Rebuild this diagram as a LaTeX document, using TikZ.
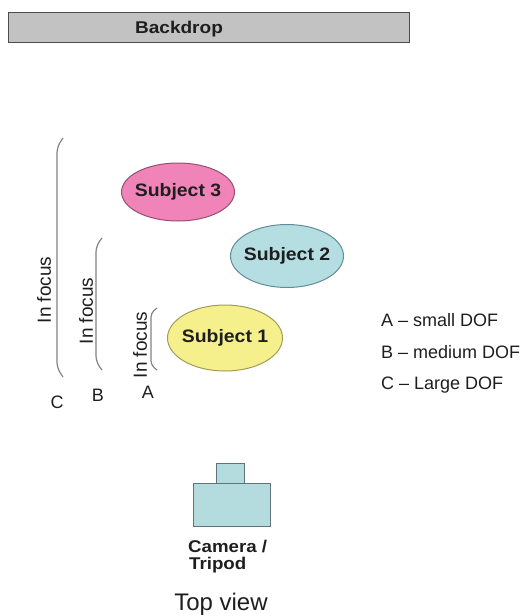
\documentclass[tikz,border=0pt]{standalone}
\usepackage{fontspec}
\usepackage{graphicx}
\setmainfont{Liberation Sans}
\usetikzlibrary{shapes.geometric}
\definecolor{bdgray}{RGB}{194,194,194}
\definecolor{pinkf}{RGB}{240,132,184}
\definecolor{pinkd}{RGB}{150,80,110}
\definecolor{bluef}{RGB}{180,222,226}
\definecolor{blued}{RGB}{100,140,150}
\definecolor{yelf}{RGB}{246,240,140}
\definecolor{yeld}{RGB}{160,155,90}
\definecolor{camf}{RGB}{180,220,222}
\definecolor{camd}{RGB}{95,115,120}
\definecolor{brk}{RGB}{130,130,130}
\definecolor{txt}{RGB}{30,30,30}
\tikzset{
  subj/.style={ellipse, draw, line width=1pt, inner sep=0pt},
  subjtext/.style={font=\fontsize{18}{20}\selectfont\bfseries, text=txt, inner sep=0pt},
  brack/.style={draw=brk, line width=1.2pt, rounded corners=6pt},
  focus/.style={rotate=90, font=\fontsize{19}{21}\selectfont, text=txt, inner sep=0pt},
  letter/.style={font=\fontsize{18}{20}\selectfont, text=txt, inner sep=0pt},
  legend/.style={font=\fontsize{18}{20}\selectfont, text=txt, inner sep=0pt, anchor=west},
  cam/.style={draw=camd, fill=camf, line width=1pt}
}
\begin{document}
\begin{tikzpicture}[x=1pt,y=-1pt]
\useasboundingbox (0,0) rectangle (531,616);
% backdrop
\draw[fill=bdgray, draw=black!70, line width=1pt] (8,12) rectangle (409,42);
\node[font=\fontsize{17}{19}\selectfont\bfseries, text=txt] (bd) at (179,29) {\scalebox{1.12}[1]{Backdrop}};
% subjects
\node[subj, fill=pinkf, draw=pinkd, minimum width=113pt, minimum height=58pt] (s3) at (178,192) {};
\node[subjtext] (t3) at (s3.center) {\scalebox{1.08}[1]{Subject 3}};
\node[subj, fill=bluef, draw=blued, minimum width=113pt, minimum height=63pt] (s2) at (287,256) {};
\node[subjtext] (t2) at (s2.center) {\scalebox{1.08}[1]{Subject 2}};
\node[subj, fill=yelf, draw=yeld, minimum width=115pt, minimum height=66pt] (s1) at (225,338) {};
\node[subjtext] (t1) at (s1.center) {\scalebox{1.08}[1]{Subject 1}};
% brackets
\coordinate (c1) at (63,138); \coordinate (c2) at (63,377);
\draw[brack] (c1) -- (57,147) -- (57,368) -- (c2);
\coordinate (b1) at (102,238); \coordinate (b2) at (102,370);
\draw[brack] (b1) -- (96,246) -- (96,362) -- (b2);
\coordinate (a1) at (157,308); \coordinate (a2) at (157,370);
\draw[brack, rounded corners=4pt] (a1) -- (151,313) -- (151,365) -- (a2);
% in focus labels
\node[focus] (fc) at (44,290) {In focus};
\node[focus] (fb) at (86,311) {In focus};
\node[focus] (fa) at (140,345) {In focus};
% letters
\node[letter] (lc) at (57,402) {C};
\node[letter] (lb) at (98,395) {B};
\node[letter] (la) at (148,392) {A};
% legend
\node[legend] (ga) at (381,320) {A – small DOF};
\node[legend] (gb) at (381,352) {B – medium DOF};
\node[legend] (gc) at (381,385) {C – Large DOF};
% camera
\draw[cam] (216,463) rectangle (244,483);
\draw[cam] (193,483) rectangle (270,526);
\node[font=\fontsize{17}{19}\selectfont\bfseries, text=txt, anchor=west, inner sep=0pt] (cam1) at (188,547) {\scalebox{1.1}[1]{Camera /}};
\node[font=\fontsize{17}{19}\selectfont\bfseries, text=txt, anchor=west, inner sep=0pt] (cam2) at (189,565) {\scalebox{1.1}[1]{Tripod}};
\node[font=\fontsize{24}{26}\selectfont, text=txt, inner sep=0pt] (tv) at (221,604) {Top view};
\end{tikzpicture}
\end{document}
